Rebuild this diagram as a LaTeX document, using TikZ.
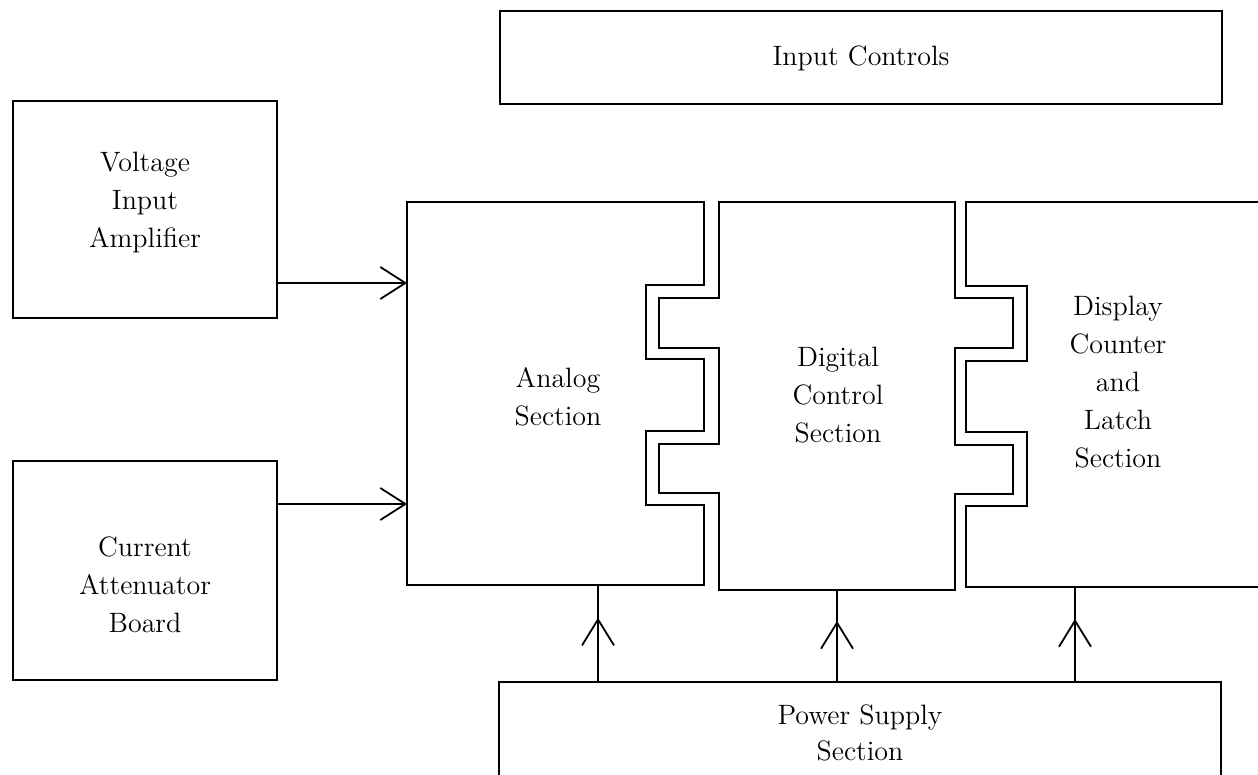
\documentclass[tikz,border=0pt]{standalone}
\usepackage{fontspec}
\usetikzlibrary{arrows.meta,decorations.markings}
\begin{document}
\begin{tikzpicture}[x=0.5pt,y=-0.5pt,line width=0.9pt,
  box/.style={draw,rectangle,inner sep=0pt},
  lbl/.style={align=center,inner sep=0pt,font=\fontsize{14}{19}\selectfont\addfontfeature{LetterSpace=18}},
  plain/.style={align=center,inner sep=0pt,font=\fontsize{14}{18}\selectfont\addfontfeature{LetterSpace=14}},
  vee/.style={-{Straight Barb[length=12.5pt,width=16pt]}},
  midvee/.style={decoration={markings,mark=at position 0.66 with {\arrow{Straight Barb[length=13pt,width=16pt]}}},postaction={decorate}}]
\useasboundingbox (0,0) rectangle (1258,775);
\clip (0,0) rectangle (1258,775);
% plain boxes
\node[box,minimum width=361pt,minimum height=46.5pt] (inctl) at (861,57.5) {};
\node[plain] (inctlT) at (861,58) {Input Controls};
\node[box,minimum width=132pt,minimum height=108.5pt] (volt) at (145,209.5) {};
\node[lbl] (voltT) at (145,203) {Voltage\\Input\\Amplifier};
\node[box,minimum width=132pt,minimum height=109.5pt] (curr) at (145,570.5) {};
\node[lbl] (currT) at (145,585) {Current\\Attenuator\\Board};
\node[box,minimum width=361pt,minimum height=54pt] (power) at (860,736) {};
\node[plain] (powerT) at (860,733) {Power Supply\\Section};
% interlocking sections
\draw (407,202) -- (704,202) -- (704,285) -- (646,285) -- (646,359) -- (704,359)
  -- (704,431) -- (646,431) -- (646,505) -- (704,505) -- (704,585) -- (407,585) -- cycle;
\draw (719,202) -- (955,202) -- (955,298) -- (1013,298) -- (1013,348) -- (955,348)
  -- (955,445) -- (1013,445) -- (1013,494) -- (955,494) -- (955,590) -- (719,590)
  -- (719,493) -- (659,493) -- (659,444) -- (719,444) -- (719,348) -- (659,348)
  -- (659,298) -- (719,298) -- cycle;
\draw (1270,202) -- (966,202) -- (966,286) -- (1027,286) -- (1027,361) -- (966,361)
  -- (966,432) -- (1027,432) -- (1027,506) -- (966,506) -- (966,587) -- (1270,587);
\node[lbl] (analogT) at (558,397) {Analog\\Section};
\node[lbl] (digitalT) at (838,395) {Digital\\Control\\Section};
\node[lbl] (displayT) at (1118,382) {Display\\Counter\\and\\Latch\\Section};
% connection points
\coordinate (aIn1) at (407,283);
\coordinate (aIn2) at (407,504);
\coordinate (aBot) at (598,585);
\coordinate (dBot) at (837,590);
\coordinate (sBot) at (1075,587);
% connectors
\draw[vee] (volt.east |- aIn1) -- (aIn1);
\draw[vee] (curr.east |- aIn2) -- (aIn2);
\draw[midvee] (power.north -| aBot) -- (aBot);
\draw[midvee] (power.north -| dBot) -- (dBot);
\draw[midvee] (power.north -| sBot) -- (sBot);
\end{tikzpicture}
\end{document}
